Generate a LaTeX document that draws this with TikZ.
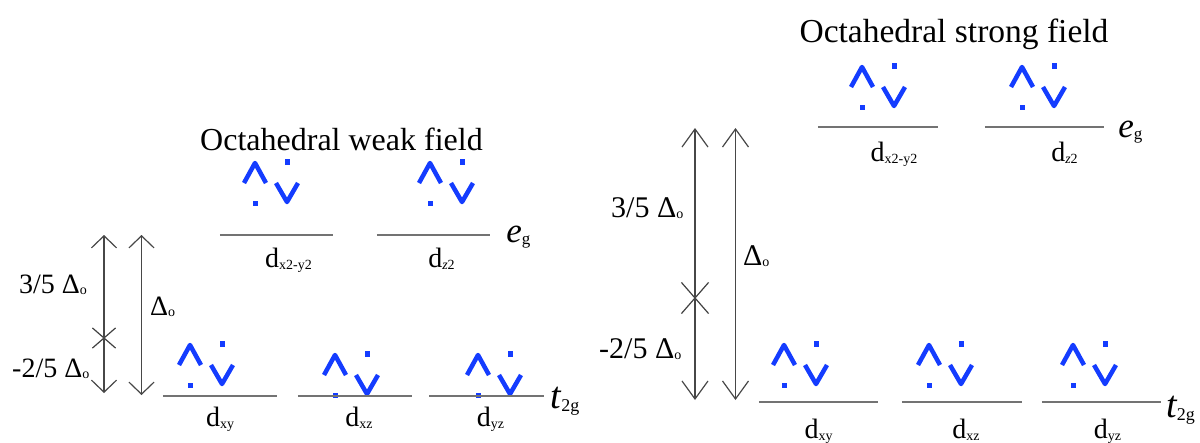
\documentclass[tikz,border=0pt]{standalone}
\usepackage{fontspec}
\setmainfont{Liberation Serif}
\usetikzlibrary{arrows.meta,positioning,shapes.misc}
\definecolor{elblue}{RGB}{20,60,255}
\definecolor{lvlgray}{RGB}{115,115,115}
\newcommand{\dsub}[1]{\raisebox{-2pt}{\fontsize{14}{14}\selectfont #1}}
\newcommand{\dlto}{Δ\raisebox{-1pt}{\fontsize{14}{14}\selectfont o}}
\tikzset{
  level/.style={minimum width=114pt, minimum height=0pt, inner sep=0pt},
  lvlline/.style={draw=lvlgray, line width=2.5pt},
  gap/.style={draw=black!72, line width=1.2pt},
  cross/.style={draw=black!75, line width=1.2pt, cross out, inner sep=0pt},
  orb/.style={font=\fontsize{28}{28}\selectfont, inner sep=0pt, anchor=base},
  lbl/.style={inner sep=0pt, anchor=base west},
  spin/.style={draw=elblue, line width=4.5pt, line join=round},
  pair/.pic={
    \draw[spin] (-11,22) -- (0,2) -- (11,22);
    \fill[elblue] (-2.5,39.5) rectangle (2.5,45);
    \draw[spin] (21,22) -- (32,41) -- (43,22);
    \fill[elblue] (29.5,-2) rectangle (34.5,4);
  },
}
\begin{document}
\begin{tikzpicture}[x=1pt, y=-1pt]
  \useasboundingbox (0,0) rectangle (1200,442);

  % weak field
  \node[lbl, anchor=base, font=\fontsize{32}{32}\selectfont] (wtitle) at (341.5,150) {Octahedral weak field};

  \node[level, minimum width=113pt] (weg1) at (276.5,235) {};
  \node[level, minimum width=113pt] (weg2) at (433.5,235) {};
  \node[level] (wt1) at (220,396) {};
  \node[level] (wt2) at (355,396) {};
  \node[level] (wt3) at (486.5,396) {};

  \node[orb] (wlx) at ([xshift=12pt, yshift=-32pt]weg1) {d\dsub{x2-y2}};
  \node[orb] (wlz) at ([xshift=8pt, yshift=-32pt]weg2) {d\dsub{\itshape z\upshape 2}};
  \node[orb] (wlxy) at ([xshift=0pt, yshift=-30pt]wt1) {d\dsub{xy}};
  \node[orb] (wlxz) at ([xshift=4pt, yshift=-30pt]wt2) {d\dsub{xz}};
  \node[orb] (wlyz) at ([xshift=4pt, yshift=-30pt]wt3) {d\dsub{yz}};

  \node[lbl] (weg) at ([xshift=16pt, yshift=-7pt]weg2.east)
    {{\fontsize{35}{35}\selectfont\itshape e}\raisebox{-2pt}{\fontsize{17}{17}\selectfont g}};
  \node[lbl] (wtg) at ([xshift=7pt, yshift=-12pt]wt3.east)
    {{\fontsize{38}{38}\selectfont\itshape t}\raisebox{-3pt}{\fontsize{18}{18}\selectfont 2g}};

  \pic at (255,161) {pair};
  \pic at (430,161) {pair};
  \pic at (190,343) {pair};
  \pic at (335,353) {pair};
  \pic at (478,353) {pair};

  \begin{scope}[>={Straight Barb[length=12pt,width=25pt]}]
    \coordinate (wtop1) at (104,235);
    \coordinate (wbot1) at (104,393);
    \node[cross, minimum width=22pt, minimum height=19pt] (wx) at (104,338) {};
    \coordinate (wtop2) at (141.5,235);
    \coordinate (wbot2) at (141.5,395);
    \draw[gap, ->] (wx.center) -- (wtop1);
    \draw[gap, ->] (wx.center) -- (wbot1);
    \draw[gap, <->] (wtop2) -- (wbot2);
  \end{scope}

  \node[lbl, font=\fontsize{28}{28}\selectfont] (wup) at (19,293) {3/5 \dlto};
  \node[lbl, font=\fontsize{28}{28}\selectfont] (wdn) at (12,377) {-2/5 \dlto};
  \node[lbl, font=\fontsize{28}{28}\selectfont] (wdo) at (150,315) {\dlto};

  % strong field
  \node[lbl, anchor=base, font=\fontsize{33.5}{33.5}\selectfont] (stitle) at (954,42) {Octahedral strong field};

  \node[level, minimum width=120pt] (seg1) at (878,127) {};
  \node[level, minimum width=119pt] (seg2) at (1044.5,127) {};
  \node[level, minimum width=119pt] (st1) at (818.5,402) {};
  \node[level, minimum width=120pt] (st2) at (962,402) {};
  \node[level, minimum width=119pt] (st3) at (1101.5,402) {};

  \node[orb] (slx) at ([xshift=16pt, yshift=-34pt]seg1) {d\dsub{x2-y2}};
  \node[orb] (slz) at ([xshift=20pt, yshift=-34pt]seg2) {d\dsub{\itshape z\upshape 2}};
  \node[orb] (slxy) at ([xshift=0pt, yshift=-36pt]st1) {d\dsub{xy}};
  \node[orb] (slxz) at ([xshift=4pt, yshift=-36pt]st2) {d\dsub{xz}};
  \node[orb] (slyz) at ([xshift=6pt, yshift=-36pt]st3) {d\dsub{yz}};

  \node[lbl] (seg) at ([xshift=14pt, yshift=-10pt]seg2.east)
    {{\fontsize{35}{35}\selectfont\itshape e}\raisebox{-2pt}{\fontsize{17}{17}\selectfont g}};
  \node[lbl] (stg) at ([xshift=5pt, yshift=-15pt]st3.east)
    {{\fontsize{38}{38}\selectfont\itshape t}\raisebox{-3pt}{\fontsize{18}{18}\selectfont 2g}};

  \pic at (862,65) {pair};
  \pic at (1022,65) {pair};
  \pic at (784,343) {pair};
  \pic at (929,343) {pair};
  \pic at (1073,343) {pair};

  \begin{scope}[>={Straight Barb[length=18pt,width=26pt]}]
    \coordinate (stop1) at (695,128);
    \coordinate (sbot1) at (695,400);
    \node[cross, minimum width=26pt, minimum height=30pt] (sx) at (695,298) {};
    \coordinate (stop2) at (735.5,128);
    \coordinate (sbot2) at (735.5,400);
    \draw[gap, ->] (sx.center) -- (stop1);
    \draw[gap, ->] (sx.center) -- (sbot1);
    \draw[gap, <->] (stop2) -- (sbot2);
  \end{scope}

  \node[lbl, font=\fontsize{30}{30}\selectfont] (sup3) at (611,217) {3/5 \dlto};
  \node[lbl, font=\fontsize{30}{30}\selectfont] (sdn2) at (599,358) {-2/5 \dlto};
  \node[lbl, font=\fontsize{30}{30}\selectfont] (sdo) at (743,265) {\dlto};

  \foreach \n in {weg1,weg2,wt1,wt2,wt3,seg1,seg2,st1,st2,st3}
    \draw[lvlline] (\n.west) -- (\n.east);
\end{tikzpicture}
\end{document}
